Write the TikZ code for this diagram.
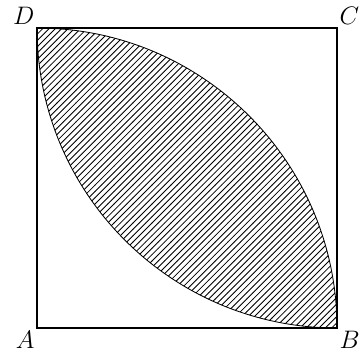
\documentclass[tikz,border=0pt]{standalone}
\usepackage{tikz}
\usetikzlibrary{patterns, positioning}

\begin{document}
\begin{tikzpicture}[
    side/.style={draw, line width=1pt},
    lens/.style={draw, thin, pattern=north east lines},
    lbl/.style={inner sep=1pt, font=\large}]
  \useasboundingbox (-0.617,-0.467) rectangle (5.417,5.467);
  \coordinate (A) at (0,0);
  \coordinate (B) at (5,0);
  \coordinate (C) at (5,5);
  \coordinate (D) at (0,5);
  % shaded lens: quarter circles about A and C
  \path[lens] (D) arc (90:0:5) arc (270:180:5) -- cycle;
  \draw[side] (A) -- (B) -- (C) -- (D) -- cycle;
  \node[lbl, below left=0.5pt and 0pt of A] (la) {$A$};
  \node[lbl, below right=0.5pt and 0pt of B] (lb) {$B$};
  \node[lbl, above right=0.5pt and 0pt of C] (lc) {$C$};
  \node[lbl, above left=0.5pt and 0pt of D] (ld) {$D$};
\end{tikzpicture}
\end{document}
